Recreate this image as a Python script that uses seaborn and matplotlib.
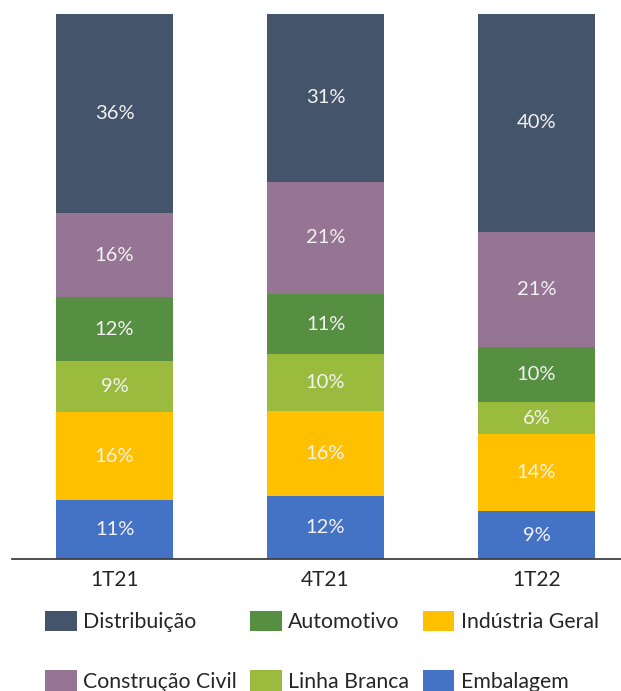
import matplotlib
matplotlib.use("Agg")
import matplotlib.pyplot as plt
import seaborn as sns
import numpy as np
import pandas as pd
from matplotlib.patches import Patch

periods = ["1T21", "4T21", "1T22"]
segments = ["Embalagem", "Indústria Geral", "Linha Branca", "Automotivo", "Construção Civil", "Distribuição"]
embalagem = [10.8, 11.6, 8.8]
industria = [16.1, 15.6, 14.1]
linha_branca = [9.4, 10.4, 5.9]
automotivo = [11.7, 11.0, 10.1]
construcao = [15.4, 20.6, 21.1]
distribuicao = [36.6, 30.8, 40.0]
labels = {
    "Embalagem": ["11%", "12%", "9%"],
    "Indústria Geral": ["16%", "16%", "14%"],
    "Linha Branca": ["9%", "10%", "6%"],
    "Automotivo": ["12%", "11%", "10%"],
    "Construção Civil": ["16%", "21%", "21%"],
    "Distribuição": ["36%", "31%", "40%"],
}
colors = {
    "Embalagem": "#4472C4",
    "Indústria Geral": "#FFC000",
    "Linha Branca": "#9BBB3F",
    "Automotivo": "#568F41",
    "Construção Civil": "#957593",
    "Distribuição": "#44546A",
}
values = {
    "Embalagem": embalagem,
    "Indústria Geral": industria,
    "Linha Branca": linha_branca,
    "Automotivo": automotivo,
    "Construção Civil": construcao,
    "Distribuição": distribuicao,
}

sns.set_theme(style="white")
plt.rcParams["font.family"] = ["Lato", "DejaVu Sans"]

fig = plt.figure(figsize=(6.21, 6.91), dpi=100)
ax = fig.add_axes([12 / 621, 1 - 559 / 691, 1 - 12 / 621, (559 - 14) / 691])

bottom = np.zeros(len(periods))
for seg in segments:
    df = pd.DataFrame({"period": periods, "value": values[seg]})
    sns.barplot(data=df, x="period", y="value", order=periods, color=colors[seg],
                bottom=bottom.copy(), width=0.555, ax=ax, saturation=1,
                linewidth=0, errorbar=None)
    cont = ax.containers[-1]
    ax.bar_label(cont, labels=labels[seg], label_type="center", color="#F2F2F2",
                 fontsize=14.5)
    bottom = bottom + np.array(values[seg])

ax.set_ylim(0, 100)
ax.set_xlim(-0.486, 2.40)
ax.set_xlabel("")
ax.set_ylabel("")
ax.set_yticks([])
for s in ["left", "right", "top"]:
    ax.spines[s].set_visible(False)
ax.spines["bottom"].set_color("#404040")
ax.spines["bottom"].set_linewidth(1.3)
ax.tick_params(axis="x", length=0, labelsize=15, labelcolor="#262626", pad=8)

order = ["Distribuição", "Construção Civil", "Automotivo", "Linha Branca", "Indústria Geral", "Embalagem"]
handles = [Patch(facecolor=colors[s], edgecolor="none") for s in order]
fig.legend(handles, order, loc="upper left", bbox_to_anchor=(45 / 621, 1 - 611 / 691),
           ncol=3, frameon=False, fontsize=15.3, handlelength=1.5, handleheight=1.1,
           handletextpad=0.3, columnspacing=0.62, labelspacing=1.78,
           borderpad=0, borderaxespad=0, labelcolor="#262626")

fig.savefig("out.png", dpi=100)
